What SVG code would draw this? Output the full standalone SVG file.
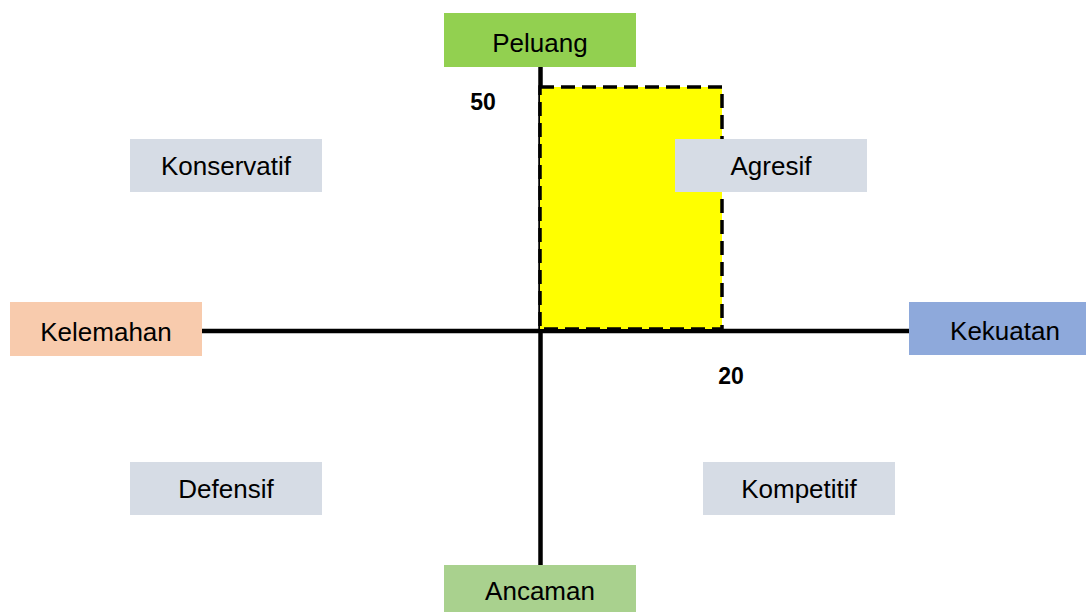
<svg xmlns="http://www.w3.org/2000/svg" width="1086" height="612" viewBox="0 0 1086 612">
<style>
.lbl{font-family:"Liberation Sans",Arial,sans-serif;font-size:26px;fill:#000;text-anchor:middle}
.num{font-family:"Liberation Sans",Arial,sans-serif;font-size:23px;font-weight:bold;fill:#000;text-anchor:middle}
.quad{fill:#D6DCE5}
.axis{stroke:#000;stroke-width:4.5;fill:none}
</style>
<rect width="1086" height="612" fill="#fff"/>
<g id="connectors">
<line class="axis" x1="540.5" y1="67" x2="540.5" y2="565"/>
<line class="axis" x1="202" y1="331" x2="909" y2="331"/>
</g>
<g id="area">
<rect x="540" y="87" width="182" height="242" fill="#FFFF00" stroke="#000" stroke-width="3.5" stroke-dasharray="14,7"/>
</g>
<g id="peluang"><rect x="444" y="13" width="192" height="54" fill="#92D050"/><text class="lbl" x="540" y="52">Peluang</text></g>
<g id="ancaman"><rect x="444" y="565" width="192" height="47" fill="#A9D18E"/><text class="lbl" x="540" y="600">Ancaman</text></g>
<g id="kelemahan"><rect x="10" y="302" width="192" height="54" fill="#F8CBAD"/><text class="lbl" x="106" y="341">Kelemahan</text></g>
<g id="kekuatan"><rect x="909" y="302" width="177" height="53" fill="#8EA9DB"/><text class="lbl" x="1005" y="340">Kekuatan</text></g>
<g id="konservatif"><rect class="quad" x="130" y="139" width="192" height="53"/><text class="lbl" x="226" y="175">Konservatif</text></g>
<g id="agresif"><rect class="quad" x="675" y="139" width="192" height="53"/><text class="lbl" x="771" y="175">Agresif</text></g>
<g id="defensif"><rect class="quad" x="130" y="462" width="192" height="53"/><text class="lbl" x="226" y="498">Defensif</text></g>
<g id="kompetitif"><rect class="quad" x="703" y="462" width="192" height="53"/><text class="lbl" x="799" y="498">Kompetitif</text></g>
<g id="label50"><text class="num" x="483" y="110">50</text></g>
<g id="label20"><text class="num" x="731" y="384">20</text></g>
</svg>
